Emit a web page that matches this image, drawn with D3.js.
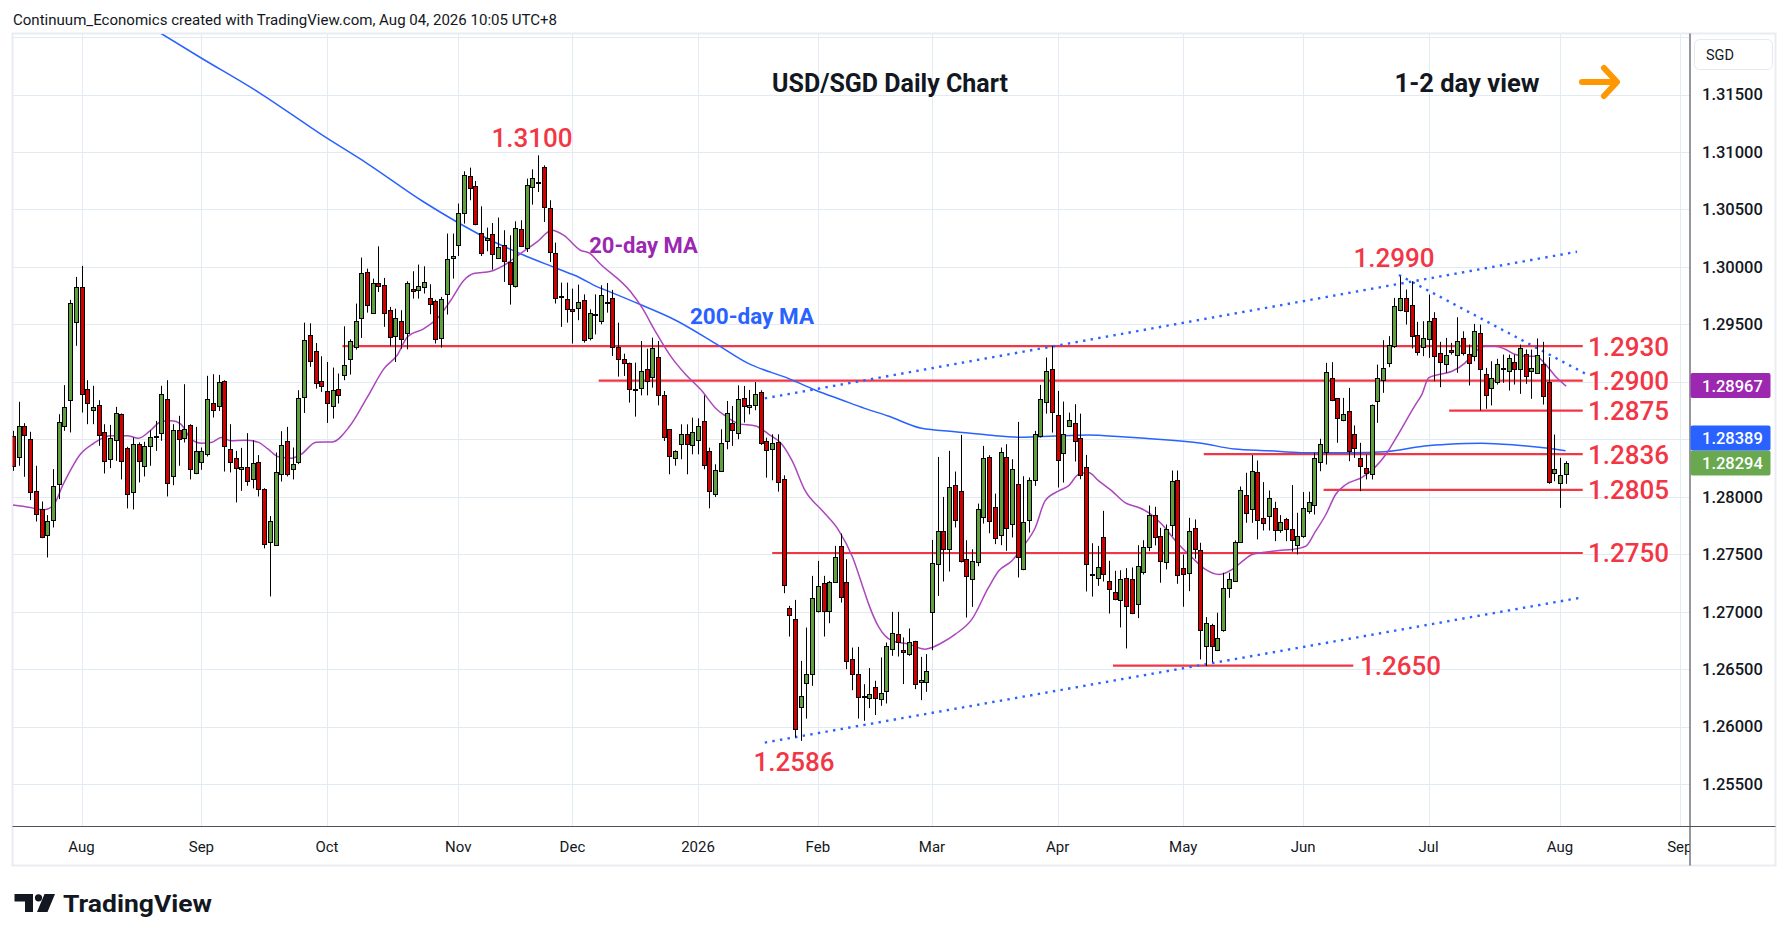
<!DOCTYPE html>
<html><head><meta charset="utf-8">
<script src="https://cdn.jsdelivr.net/npm/d3@7/dist/d3.min.js"></script>
<style>
html,body{margin:0;padding:0;background:#fff;}
svg{display:block;font-family:Roboto,"Liberation Sans",Arial,sans-serif;}
</style></head><body>
<svg id="chart" width="1789" height="941"></svg>
<script>
// ---------- DATA ----------
const firstDate = "2025-07-16";
const lastDate = "2026-09-30";
const holidays = ["2025-12-25", "2026-01-01"];
const opens = [1.28530,1.28350,1.28617,1.28501,1.28051,1.27892,1.27666,1.27796,1.28109,1.28614,1.28840,1.29519,
1.29826,1.28936,1.28753,1.28797,1.28567,1.28327,1.28492,1.28718,1.28428,1.28043,
1.28457,1.28266,1.28440,1.28521,1.28553,1.28849,1.28179,1.28579,1.28509,1.28623,
1.28205,1.28301,1.28370,1.28814,1.28788,1.29005,1.28414,1.28335,1.28240,1.28257,
1.28153,1.28301,1.28066,1.27608,1.27579,1.28196,1.28483,1.28240,1.28301,1.28869,
1.29411,1.29272,1.29005,1.28921,1.28796,1.28941,1.29063,1.29193,1.29304,1.29559,
1.29959,1.29602,1.29863,1.29846,1.29628,1.29399,1.29533,1.29428,1.29811,1.29802,
1.29828,1.29733,1.29707,1.29382,1.29759,1.30081,1.30194,1.30472,1.30794,1.30707,
1.30298,1.30237,1.30290,1.30081,1.30194,1.30046,1.29837,1.30333,1.30168,1.30698,
1.30733,1.30872,1.30516,1.30124,1.29750,1.29724,1.29637,1.29646,1.29709,1.29378,
1.29587,1.29529,1.29694,1.29726,1.29306,1.29196,1.29167,1.28935,1.28940,1.29109,
1.29036,1.29213,1.28882,1.28587,1.28334,1.28456,1.28543,1.28456,1.28491,1.28656,
1.28395,1.28024,1.28221,1.28479,1.28639,1.28552,1.28856,1.28778,1.28795,1.28908,
1.28482,1.28413,1.28473,1.28152,1.27029,1.26934,1.26177,1.26377,1.26455,1.27006,
1.27247,1.27006,1.27261,1.27569,1.27261,1.26586,1.26455,1.26267,1.26244,1.26340,
1.26244,1.26311,1.26673,1.26804,1.26664,1.26630,1.26746,1.26386,1.26392,1.26992,
1.27413,1.27703,1.27549,1.28100,1.28048,1.27456,1.27282,1.27427,1.27827,1.28343,
1.27911,1.27665,1.28343,1.27761,1.28109,1.27366,1.27795,1.28143,1.28523,1.28822,
1.29109,1.28709,1.28378,1.28613,1.28639,1.28509,1.28256,1.27326,1.27291,1.27647,
1.27268,1.27172,1.27099,1.27291,1.27282,1.27065,1.27343,1.27564,1.27837,1.27654,
1.27425,1.27750,1.28141,1.27381,1.27332,1.27729,1.27532,1.26700,1.26880,1.26665,
1.26836,1.27202,1.27265,1.27605,1.28011,1.27898,1.28219,1.27811,1.27828,1.27898,
1.27706,1.27802,1.27715,1.27576,1.27654,1.27880,1.27924,1.28298,1.28385,1.29029,
1.28855,1.28672,1.28750,1.28550,1.28341,1.28254,1.28193,1.28828,1.29020,1.29168,
1.29307,1.29620,1.29725,1.29672,1.29411,1.29298,1.29377,1.29556,1.29255,1.29150,
1.29281,1.29237,1.29385,1.29243,1.29229,1.29429,1.29069,1.28942,1.29002,1.29116,
1.29089,1.29168,1.29107,1.29246,1.29098,1.29081,1.29159,1.28994,1.28202,1.28124,
1.28193];
const highs = [1.28573,1.28826,1.28640,1.28565,1.28269,1.27958,1.27840,1.28240,1.28718,1.28971,1.29713,1.29913,
1.30009,1.29014,1.28965,1.28840,1.28631,1.28625,1.28782,1.28724,1.28434,1.28515,
1.28472,1.28478,1.28579,1.28660,1.28965,1.29014,1.28631,1.28704,1.28979,1.28631,
1.28608,1.28428,1.29052,1.29066,1.29060,1.29014,1.28631,1.28399,1.28425,1.28553,
1.28492,1.28362,1.28074,1.27831,1.28385,1.28570,1.28608,1.28428,1.28927,1.29515,
1.29509,1.29338,1.29222,1.29173,1.29124,1.29072,1.29483,1.29370,1.29681,1.30081,
1.29985,1.29898,1.30179,1.29904,1.29652,1.29637,1.29623,1.29875,1.29962,1.30020,
1.30005,1.29849,1.29715,1.29739,1.30290,1.30290,1.30551,1.30832,1.30864,1.30748,
1.30527,1.30342,1.30382,1.30429,1.30319,1.30275,1.30397,1.30406,1.30768,1.30849,
1.30971,1.30884,1.30580,1.30211,1.29863,1.29863,1.29811,1.29846,1.29761,1.29631,
1.29761,1.29840,1.29860,1.29800,1.29515,1.29245,1.29167,1.29167,1.29355,1.29288,
1.29384,1.29355,1.28920,1.28587,1.28404,1.28630,1.28630,1.28688,1.28682,1.28882,
1.28427,1.28282,1.28587,1.28833,1.28790,1.28969,1.28964,1.28929,1.28998,1.28926,
1.28514,1.28543,1.28543,1.28186,1.27050,1.27102,1.26571,1.26861,1.27311,1.27441,
1.27311,1.27267,1.27572,1.27679,1.27456,1.26687,1.26693,1.26368,1.26508,1.26398,
1.26601,1.26731,1.26998,1.26998,1.26775,1.26853,1.26746,1.26606,1.26630,1.27624,
1.28346,1.27998,1.28399,1.28219,1.28538,1.27621,1.27543,1.27940,1.28442,1.28361,
1.28027,1.28428,1.28457,1.28326,1.28651,1.28178,1.28167,1.28573,1.28973,1.29211,
1.29312,1.28921,1.28828,1.28732,1.28805,1.28723,1.28364,1.27595,1.27572,1.27877,
1.27442,1.27355,1.27360,1.27378,1.27384,1.27578,1.27621,1.27924,1.27912,1.27729,
1.27758,1.28228,1.28228,1.27497,1.27816,1.27802,1.27599,1.26952,1.26894,1.26990,
1.27338,1.27338,1.27619,1.28089,1.28208,1.28362,1.28315,1.28127,1.28054,1.27956,
1.27840,1.27816,1.28101,1.27860,1.28040,1.28043,1.28382,1.28504,1.29165,1.29171,
1.28855,1.28860,1.28947,1.28620,1.28469,1.28367,1.28802,1.29150,1.29362,1.29397,
1.29730,1.29919,1.29803,1.29875,1.29522,1.29527,1.29759,1.29606,1.29348,1.29382,
1.29339,1.29562,1.29440,1.29324,1.29504,1.29498,1.29121,1.29179,1.29200,1.29237,
1.29237,1.29237,1.29324,1.29281,1.29281,1.29377,1.29348,1.29214,1.28541,1.28338,
1.28309];
const lows = [1.28225,1.28269,1.28173,1.27970,1.27784,1.27639,1.27471,1.27732,1.27979,1.28573,1.28559,1.29313,
1.28733,1.28631,1.28631,1.28443,1.28202,1.28248,1.28312,1.28150,1.27898,1.27889,
1.28124,1.28176,1.28269,1.28399,1.28486,1.28002,1.28100,1.28269,1.28472,1.28150,
1.28196,1.28234,1.28350,1.28689,1.28747,1.28219,1.28211,1.27950,1.28051,1.28095,
1.28072,1.28002,1.27550,1.27132,1.27579,1.28132,1.28176,1.28150,1.28283,1.28729,
1.29130,1.28941,1.28912,1.28642,1.28680,1.28811,1.29014,1.29063,1.29280,1.29382,
1.29602,1.29594,1.29782,1.29478,1.29309,1.29173,1.29289,1.29283,1.29724,1.29724,
1.29768,1.29588,1.29333,1.29298,1.29585,1.29898,1.30095,1.30377,1.30580,1.30362,
1.30095,1.30136,1.29976,1.30069,1.29869,1.29672,1.29820,1.30174,1.30130,1.30542,
1.30652,1.30391,1.30043,1.29681,1.29478,1.29515,1.29333,1.29536,1.29341,1.29361,
1.29413,1.29500,1.29602,1.29225,1.29045,1.29051,1.28819,1.28697,1.28882,1.28882,
1.28949,1.28795,1.28485,1.28195,1.28270,1.28326,1.28195,1.28369,1.28369,1.28239,
1.27899,1.27998,1.28215,1.28413,1.28442,1.28500,1.28645,1.28717,1.28752,1.28450,
1.28166,1.28143,1.28044,1.27160,1.26783,1.25904,1.25875,1.26069,1.26354,1.26992,
1.26783,1.26899,1.27258,1.27079,1.26499,1.26316,1.26069,1.26049,1.26160,1.26100,
1.26180,1.26200,1.26615,1.26609,1.26369,1.26615,1.26325,1.26229,1.26302,1.26664,
1.27137,1.27262,1.27349,1.27732,1.27427,1.26949,1.27041,1.27395,1.27766,1.27682,
1.27587,1.27578,1.27529,1.27645,1.27297,1.27360,1.27688,1.28094,1.28515,1.28723,
1.28558,1.28080,1.28123,1.28610,1.28306,1.28152,1.27175,1.27131,1.27224,1.27262,
1.26983,1.27099,1.26862,1.26679,1.26978,1.26943,1.27323,1.27526,1.27576,1.27251,
1.27367,1.27657,1.27242,1.27042,1.27178,1.27460,1.26584,1.26526,1.26561,1.26656,
1.26825,1.27120,1.27260,1.27599,1.27773,1.27773,1.27628,1.27706,1.27706,1.27613,
1.27686,1.27613,1.27521,1.27497,1.27642,1.27851,1.27845,1.28222,1.28280,1.28831,
1.28469,1.28657,1.28309,1.28338,1.28048,1.28150,1.28150,1.28643,1.28904,1.29127,
1.29295,1.29614,1.29498,1.29290,1.29229,1.29223,1.29208,1.29005,1.28953,1.29078,
1.29237,1.29078,1.29229,1.28968,1.29179,1.28750,1.28765,1.28794,1.28976,1.28991,
1.28924,1.28976,1.28895,1.28982,1.28852,1.29069,1.28802,1.28112,1.28135,1.27903,
1.28112];
const closes = [1.28269,1.28617,1.28536,1.28040,1.27848,1.27651,1.27787,1.28092,1.28649,1.28779,1.29684,1.29826,
1.28892,1.28814,1.28779,1.28536,1.28318,1.28509,1.28727,1.28309,1.28031,1.28457,
1.28309,1.28440,1.28518,1.28527,1.28892,1.28118,1.28579,1.28501,1.28588,1.28237,
1.28396,1.28396,1.28849,1.28753,1.28997,1.28440,1.28301,1.28248,1.28257,1.28135,
1.28292,1.28066,1.27587,1.27787,1.28214,1.28449,1.28196,1.28283,1.28857,1.29367,
1.29182,1.28993,1.28964,1.28819,1.28932,1.28889,1.29150,1.29353,1.29530,1.29950,
1.29672,1.29863,1.29837,1.29602,1.29391,1.29559,1.29376,1.29863,1.29794,1.29837,
1.29872,1.29681,1.29373,1.29724,1.30066,1.30098,1.30472,1.30803,1.30690,1.30377,
1.30124,1.30255,1.30116,1.30176,1.30055,1.29855,1.30342,1.30185,1.30716,1.30777,
1.30742,1.30524,1.30133,1.29733,1.29747,1.29637,1.29620,1.29698,1.29361,1.29596,
1.29590,1.29752,1.29697,1.29297,1.29201,1.29161,1.28940,1.28926,1.29091,1.29004,
1.29291,1.28882,1.28517,1.28355,1.28395,1.28543,1.28456,1.28566,1.28613,1.28276,
1.28047,1.28230,1.28465,1.28726,1.28578,1.28850,1.28787,1.28795,1.28891,1.28465,
1.28404,1.28465,1.28125,1.27229,1.26968,1.25979,1.26269,1.26455,1.27116,1.27224,
1.27006,1.27261,1.27479,1.27125,1.26577,1.26455,1.26255,1.26264,1.26282,1.26244,
1.26293,1.26702,1.26812,1.26731,1.26647,1.26734,1.26369,1.26403,1.26485,1.27421,
1.27703,1.27549,1.28085,1.27795,1.27442,1.27305,1.27442,1.27891,1.28338,1.27787,
1.27639,1.28387,1.27723,1.28239,1.27471,1.27778,1.28143,1.28544,1.28848,1.29092,
1.28735,1.28317,1.28544,1.28665,1.28483,1.28187,1.27413,1.27323,1.27386,1.27326,
1.27195,1.27108,1.27282,1.27047,1.26986,1.27395,1.27560,1.27845,1.27648,1.27439,
1.27715,1.28135,1.27315,1.27332,1.27700,1.27550,1.26836,1.26897,1.26700,1.26772,
1.27202,1.27280,1.27605,1.28054,1.27854,1.28228,1.27802,1.27767,1.27985,1.27706,
1.27776,1.27715,1.27619,1.27654,1.27898,1.27958,1.28333,1.28457,1.29081,1.28840,
1.28681,1.28724,1.28402,1.28428,1.28272,1.28211,1.28794,1.29029,1.29124,1.29324,
1.29658,1.29725,1.29611,1.29403,1.29266,1.29377,1.29533,1.29229,1.29176,1.29229,
1.29263,1.29359,1.29255,1.29168,1.29446,1.29113,1.28889,1.29029,1.29159,1.29118,
1.29203,1.29107,1.29290,1.29055,1.29124,1.29237,1.28881,1.28124,1.28237,1.28193,
1.28292];
// moving averages: [bar number, value]
const ma20 = [[0,1.27927],[3,1.27906],[5.3,1.27886],[7,1.27921],[8.8,1.28109],[11.8,1.28370],[14.1,1.28463],[17,1.28530],[20,1.28530],[22,1.28509],[24,1.28573],[26,1.28654],[27.8,1.28660],[29.4,1.28631],[31.2,1.28501],[33,1.28466],[34.7,1.28472],[36.5,1.28515],[38.2,1.28486],[40.6,1.28492],[42.9,1.28475],[44.7,1.28414],[46.5,1.28347],[48.8,1.28335],[50.5,1.2837],[53.1,1.28474],[56,1.28477],[58.9,1.28608],[62.1,1.28869],[65,1.29115],[67.3,1.29231],[69.1,1.29391],[72,1.29463],[74.3,1.29550],[76.7,1.29710],[79,1.29884],[80.7,1.29942],[83.7,1.29962],[86,1.30014],[88.9,1.30116],[91.8,1.30217],[94.4,1.30319],[96.5,1.30275],[99.4,1.30145],[101,1.3012],[102.8,1.3003],[108.1,1.2979],[110.2,1.29645],[112.5,1.29442],[115.4,1.2921],[117.8,1.29065],[120.7,1.2892],[123,1.28775],[124.8,1.28703],[127.1,1.28636],[130.1,1.28616],[132.4,1.28543],[134.7,1.28456],[136.5,1.28311],[138.8,1.2805],[141.8,1.27877],[144.7,1.27703],[147.1,1.27471],[149.1,1.27181],[149.9,1.27065],[151.7,1.26862],[154,1.26746],[156.9,1.26717],[159.8,1.26673],[161,1.26688],[162.8,1.26731],[165.1,1.26804],[168,1.26934],[170.9,1.27210],[172.7,1.27355],[175,1.27442],[176.8,1.27558],[179.1,1.27732],[180.8,1.27964],[183.2,1.28051],[184.9,1.28094],[186.7,1.28196],[188.4,1.28210],[190.2,1.28138],[192.5,1.28051],[194.8,1.27949],[197.2,1.27906],[199,1.27860],[201.3,1.27758],[203.7,1.27613],[206.6,1.27468],[208.9,1.27367],[211.3,1.27323],[213.6,1.27367],[215.4,1.27439],[217.1,1.27497],[220,1.27521],[221.8,1.27532],[224.1,1.27541],[226.5,1.27570],[228.2,1.27700],[230,1.27845],[231.7,1.28019],[233.5,1.28106],[236.4,1.28170],[238.8,1.28266],[240.5,1.28367],[242.3,1.28512],[245.7,1.28802],[246.8,1.28889],[248,1.29034],[249.8,1.29063],[252.1,1.29092],[254.4,1.29165],[256.2,1.29266],[257.9,1.29310],[259.7,1.29310],[261.5,1.29281],[263.2,1.29237],[265,1.29223],[266.8,1.29223],[268.5,1.29150],[270.2,1.29049],[272.1,1.28962]];
const ma200 = [[25.9,1.32033],[32.6,1.31829],[43.3,1.31511],[54.6,1.31133],[62,1.30902],[71.9,1.30567],[77.7,1.30393],[83.6,1.30234],[89.4,1.30104],[95.2,1.29988],[99.3,1.29906],[102.3,1.29828],[103.7,1.2980],[110.1,1.29668],[116,1.29538],[123,1.29335],[128.8,1.2916],[135.8,1.2903],[140.5,1.28929],[145.2,1.28842],[149.2,1.28769],[153.3,1.28702],[159.2,1.28595],[165,1.28566],[170.8,1.28537],[176.7,1.28517],[182.5,1.28528],[188.4,1.28537],[194.2,1.28522],[198.3,1.28508],[208.2,1.28465],[214,1.28415],[219.9,1.284],[225.7,1.28383],[234.5,1.28383],[240.3,1.28392],[247.3,1.28441],[251.4,1.28456],[257.3,1.28465],[263.1,1.2845],[269,1.28421],[272,1.284]];
const trendLines = [
  [[131.7,1.28856],[274,1.30132]],
  [[131.7,1.2586],[274.5,1.2712]],
  [[242.8,1.29929],[275.9,1.29059]]
];
const levelValues = [1.2931, 1.2901, 1.2875, 1.2837, 1.2806, 1.2751, 1.2653];
const levelLabels = ["1.2930","1.2900","1.2875","1.2836","1.2805","1.2750","1.2650"];
const levelFrom = [57.7, 102.6, 251.6, 208.6, 229.6, 133, 192.7];
const levelTo = [275, 275, 275, 275, 275, 275, 234.8];
const priceTicks = [1.255,1.26,1.265,1.27,1.275,1.28,1.285,1.29,1.295,1.30,1.305,1.31,1.315,1.32];
const monthNames = ["Jan","Feb","Mar","Apr","May","Jun","Jul","Aug","Sep","Oct","Nov","Dec"];
const lastValues = [
  {v:1.28967, color:"#9c27b0"},
  {v:1.28389, color:"#2962ff"},
  {v:1.28294, color:"#6aa84f"}
];

// ---------- BUILD ----------
function tradingDays(start, end, skip){
  const out=[]; let t=Date.parse(start+"T00:00:00Z"); const e=Date.parse(end+"T00:00:00Z");
  while(t<=e){ const d=new Date(t); const wd=d.getUTCDay(); const s=d.toISOString().slice(0,10);
    if(wd!==0&&wd!==6&&!skip.includes(s)) out.push(s); t+=86400000; }
  return out;
}
const days = tradingDays(firstDate, lastDate, holidays);
const bars = opens.map((o,i)=>({i, date:days[i], o, h:highs[i], l:lows[i], c:closes[i]}));

const plot = {l:12.5, r:1689.5, t:34, b:826};
const svg = d3.select("#chart");
const x = d3.scaleLinear().domain([-0.09, 293.7]).range([plot.l, plot.r]);
const y = d3.scaleLinear().domain([1.25, 1.32]).range([841.4, 37.1]);
const FONT = 'Roboto,"Liberation Sans",Arial,sans-serif';
const TXT = "#131722";

svg.append("rect").attr("width",1789).attr("height",941).attr("fill","#fff");

const defs = svg.append("defs");
defs.append("clipPath").attr("id","plotClip").append("rect")
  .attr("x",plot.l).attr("y",plot.t).attr("width",plot.r-plot.l).attr("height",plot.b-plot.t);
defs.append("clipPath").attr("id","timeClip").append("rect")
  .attr("x",plot.l).attr("y",plot.b).attr("width",plot.r-plot.l).attr("height",40);

// header
svg.append("text").attr("x",13).attr("y",24.5).attr("font-size",15).attr("fill",TXT)
  .attr("textLength",544).attr("lengthAdjust","spacingAndGlyphs")
  .text("Continuum_Economics created with TradingView.com, Aug 04, 2026 10:05 UTC+8");

// frame
svg.append("rect").attr("x",12.5).attr("y",33.5).attr("width",1763).attr("height",832)
  .attr("fill","none").attr("stroke","#e9ecf0").attr("stroke-width",2);

// month ticks
const monthTicks = [];
for(let i=1;i<days.length;i++){
  if(days[i].slice(0,7)!==days[i-1].slice(0,7)){
    const m = +days[i].slice(5,7);
    monthTicks.push({i, label: m===1 ? days[i].slice(0,4) : monthNames[m-1]});
  }
}
const grid = svg.append("g").attr("clip-path","url(#plotClip)");
grid.selectAll("line.v").data(monthTicks).join("line")
  .attr("x1",d=>Math.round(x(d.i))+0.5).attr("x2",d=>Math.round(x(d.i))+0.5)
  .attr("y1",plot.t).attr("y2",plot.b).attr("stroke","#e3ebf2").attr("stroke-width",1);
grid.selectAll("line.h").data(priceTicks).join("line")
  .attr("x1",plot.l).attr("x2",plot.r)
  .attr("y1",d=>Math.round(y(d))+0.5).attr("y2",d=>Math.round(y(d))+0.5)
  .attr("stroke","#e3ebf2").attr("stroke-width",1);

const g = svg.append("g").attr("clip-path","url(#plotClip)");

// horizontal levels
g.selectAll("line.lvl").data(levelValues).join("line")
  .attr("x1",(d,k)=>x(levelFrom[k])).attr("x2",(d,k)=>x(levelTo[k]))
  .attr("y1",d=>y(d)).attr("y2",d=>y(d))
  .attr("stroke","#f23645").attr("stroke-width",2.2);

// trend lines
g.selectAll("path.tl").data(trendLines).join("path")
  .attr("d",d3.line().x(d=>x(d[0])).y(d=>y(d[1])))
  .attr("fill","none").attr("stroke","#2962ff").attr("stroke-width",2.4)
  .attr("stroke-dasharray","2.4 5.3");

// moving averages
const maLine = d3.line().x(d=>x(d[0])).y(d=>y(d[1])).curve(d3.curveMonotoneX);
g.append("path").attr("d",maLine(ma200)).attr("fill","none").attr("stroke","#2962ff").attr("stroke-width",1.5);
g.append("path").attr("d",maLine(ma20)).attr("fill","none").attr("stroke","#ab47bc").attr("stroke-width",1.5);

// candles
const cx = d=>Math.round(x(d.i))+0.5;
const cg = g.append("g");
cg.selectAll("line.w").data(bars).join("line")
  .attr("x1",cx).attr("x2",cx).attr("y1",d=>y(d.h)).attr("y2",d=>y(d.l))
  .attr("stroke","#000").attr("stroke-width",1);
cg.selectAll("rect.b").data(bars).join("rect")
  .attr("x",d=>cx(d)-2).attr("width",4)
  .attr("y",d=>Math.round(y(Math.max(d.o,d.c)))+0.5)
  .attr("height",d=>Math.max(1, Math.round(Math.abs(y(d.o)-y(d.c)))))
  .attr("fill",d=>d.c>=d.o?"#5f9f3f":"#d10000")
  .attr("stroke","#000").attr("stroke-width",1);

// annotations
const red = "#f23645";
const ann = svg.append("g").attr("font-family",FONT);
levelValues.forEach((v,k)=>{
  if(k===6) return;
  ann.append("text").attr("x",1588).attr("y",y(v)).attr("dy","0.36em")
    .attr("font-size",26).attr("font-weight",500).attr("fill",red).text(levelLabels[k]);
});
ann.append("text").attr("x",1360).attr("y",y(levelValues[6])).attr("dy","0.36em")
  .attr("font-size",26).attr("font-weight",500).attr("fill",red).text(levelLabels[6]);
ann.append("text").attr("x",532).attr("y",138).attr("dy","0.36em").attr("text-anchor","middle")
  .attr("font-size",26).attr("font-weight",500).attr("fill",red).text("1.3100");
ann.append("text").attr("x",1394).attr("y",258).attr("dy","0.36em").attr("text-anchor","middle")
  .attr("font-size",26).attr("font-weight",500).attr("fill",red).text("1.2990");
ann.append("text").attr("x",794).attr("y",762).attr("dy","0.36em").attr("text-anchor","middle")
  .attr("font-size",26).attr("font-weight",500).attr("fill",red).text("1.2586");
ann.append("text").attr("x",643.5).attr("y",245.5).attr("dy","0.36em").attr("text-anchor","middle")
  .attr("font-size",22).attr("font-weight",700).attr("fill","#9c27b0").text("20-day MA");
ann.append("text").attr("x",752).attr("y",315.5).attr("dy","0.36em").attr("text-anchor","middle")
  .attr("font-size",22.5).attr("font-weight",700).attr("fill","#2962ff").text("200-day MA");
ann.append("text").attr("x",890).attr("y",92).attr("text-anchor","middle")
  .attr("font-size",25).attr("font-weight",700).attr("fill",TXT).text("USD/SGD Daily Chart");
ann.append("text").attr("x",1467).attr("y",92).attr("text-anchor","middle")
  .attr("font-size",25.5).attr("font-weight",700).attr("fill",TXT).text("1-2 day view");
// orange arrow
ann.append("path").attr("d","M1582,82 H1615 M1604,68 L1617,82 L1604,96")
  .attr("fill","none").attr("stroke","#ff9800").attr("stroke-width",6)
  .attr("stroke-linecap","round").attr("stroke-linejoin","round");

// axes lines
svg.append("line").attr("x1",12.5).attr("x2",1775.5).attr("y1",826.5).attr("y2",826.5)
  .attr("stroke","#50535e").attr("stroke-width",1.2);
svg.append("line").attr("x1",1690).attr("x2",1690).attr("y1",33.5).attr("y2",865.5)
  .attr("stroke","#50535e").attr("stroke-width",1.2);

// time labels
svg.append("g").attr("clip-path","url(#timeClip)").selectAll("text").data(monthTicks).join("text")
  .attr("x",d=>x(d.i)).attr("y",852).attr("text-anchor","middle")
  .attr("font-size",15).attr("fill",TXT).text(d=>d.label);

// price axis
const fmt = d3.format(".5f");
const boxH = 25;
const placed = [];
const order = [2,0,1];
order.forEach(k=>{
  let cy = y(lastValues[k].v);
  placed.forEach(p=>{ if(Math.abs(p.cy-cy)<boxH){ cy = cy<p.cy ? p.cy-boxH : p.cy+boxH; } });
  placed.push({k, cy});
});
const labelTicks = priceTicks.filter(t=>{
  const ty=y(t); if(ty<80) return false;
  return !placed.some(p=>Math.abs(p.cy-ty)<20);
});
svg.append("g").selectAll("text").data(labelTicks).join("text")
  .attr("x",1702).attr("y",d=>y(d)).attr("dy","0.36em")
  .attr("font-size",16.5).attr("font-weight",500).attr("fill",TXT).text(fmt);
placed.forEach(p=>{
  const lv = lastValues[p.k];
  svg.append("rect").attr("x",1690.5).attr("y",p.cy-boxH/2).attr("width",80).attr("height",boxH)
    .attr("rx",2).attr("fill",lv.color);
  svg.append("text").attr("x",1702).attr("y",p.cy).attr("dy","0.36em")
    .attr("font-size",16.5).attr("font-weight",500).attr("fill","#fff").text(fmt(lv.v));
});
// SGD box
svg.append("rect").attr("x",1694.5).attr("y",39.5).attr("width",78).attr("height",30).attr("rx",5)
  .attr("fill","#fff").attr("stroke","#e6e9ee");
svg.append("text").attr("x",1706).attr("y",55).attr("dy","0.36em").attr("font-size",14.5)
  .attr("fill",TXT).text("SGD");

// footer logo
const logo = svg.append("g").attr("fill",TXT);
logo.append("path").attr("d","M14.5,894 H33 V912 H25 V901.5 H14.5 Z");
logo.append("circle").attr("cx",38.5).attr("cy",897.8).attr("r",3.6);
logo.append("path").attr("d","M44.5,894 H55 L47.5,912 H37 Z");
logo.append("text").attr("x",63).attr("y",911.5).attr("font-size",24).attr("font-weight",700)
  .attr("textLength",149).attr("lengthAdjust","spacingAndGlyphs").text("TradingView");
</script>
</body></html>
